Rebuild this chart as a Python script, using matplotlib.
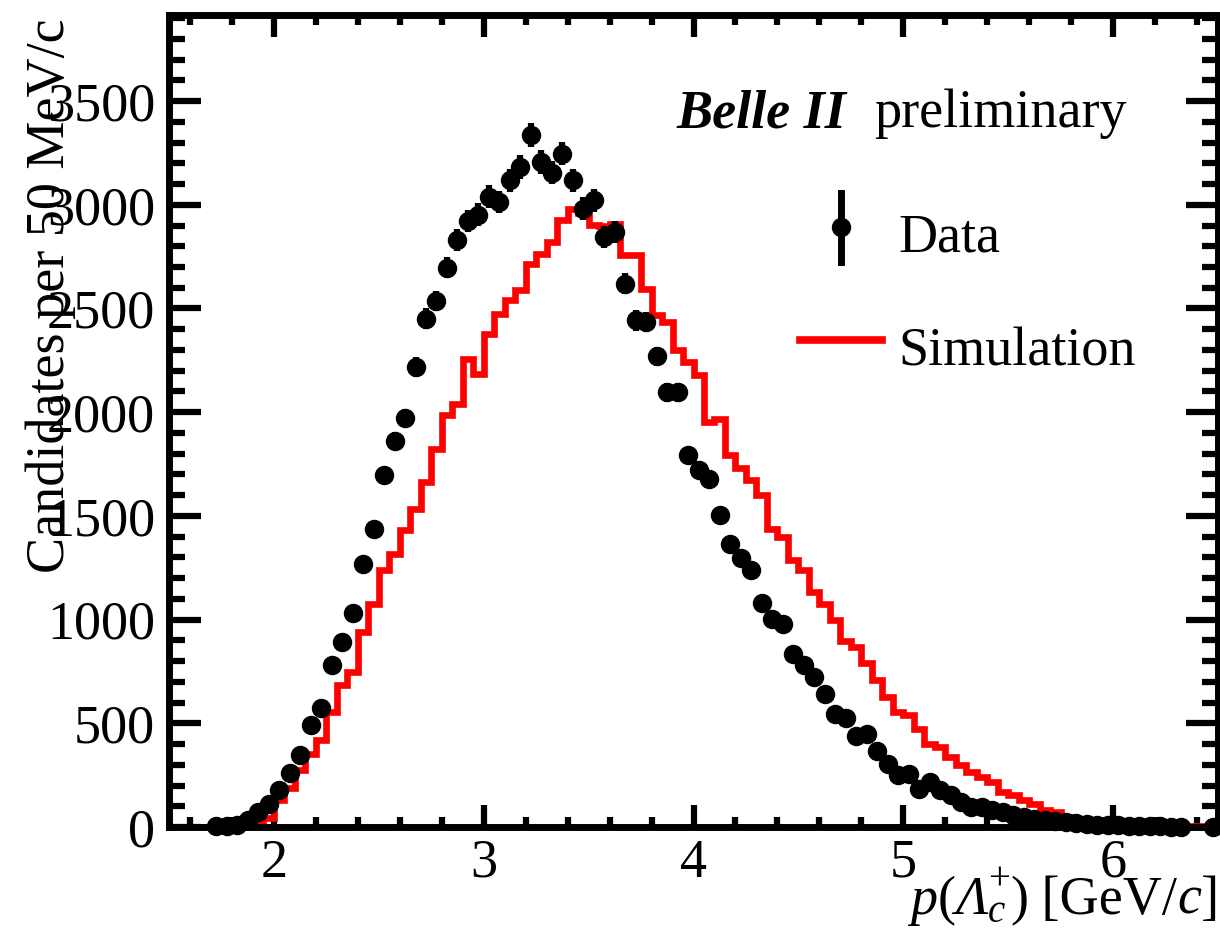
import numpy as np
import matplotlib
matplotlib.use("Agg")
import matplotlib.pyplot as plt
from matplotlib.ticker import MultipleLocator
from matplotlib.lines import Line2D

plt.rcParams['font.family'] = ['Liberation Serif', 'DejaVu Serif']

# ---- data -------------------------------------------------------------
x_low, x_high, n_bins = 1.5, 6.5, 100

# Data counts per 50 MeV/c bin (None = empty bin, not drawn)
data_counts = [
    None, None, None, None, 3, 6, 10, 32, 72, 113,            # 1.50-2.00
    177, 260, 349, 494, 574, 783, 892, 1034, 1266, 1439,      # 2.00-2.50
    1696, 1860, 1972, 2218, 2451, 2536, 2697, 2829, 2922, 2952,  # 2.50-3.00
    3038, 3013, 3118, 3182, 3335, 3206, 3155, 3247, 3118, 2982,  # 3.00-3.50
    3022, 2845, 2869, 2620, 2443, 2435, 2269, 2095, 2097, 1792,  # 3.50-4.00
    1723, 1680, 1506, 1366, 1297, 1241, 1078, 1005, 981, 836,    # 4.00-4.50
    780, 725, 640, 547, 527, 438, 450, 366, 306, 249,            # 4.50-5.00
    257, 185, 217, 177, 153, 121, 96, 96, 80, 72,                # 5.00-5.50
    56, 48, 40, 35, 30, 25, 20, 16, 12, 10,                      # 5.50-6.00
    8, 6, 5, 4, 3, 2, 2, None, None, 1,                          # 6.00-6.50
]

# Simulation (normalised) counts per bin
sim_counts = [
    0, 0, 0, 0, 0, 2, 4, 8, 20, 45,                              # 1.50-2.00
    129, 188, 273, 354, 418, 554, 683, 747, 940, 1077,           # 2.00-2.50
    1238, 1318, 1431, 1535, 1663, 1824, 1985, 2041, 2258, 2186,  # 2.50-3.00
    2379, 2475, 2539, 2590, 2716, 2765, 2821, 2925, 2982, 2960,  # 3.00-3.50
    2901, 2900, 2909, 2757, 2757, 2596, 2467, 2435, 2298, 2242,  # 3.50-4.00
    2178, 1953, 1969, 1792, 1733, 1672, 1599, 1439, 1398, 1286,  # 4.00-4.50
    1238, 1133, 1073, 997, 896, 868, 792, 707, 627, 554,         # 4.50-5.00
    539, 474, 402, 386, 338, 298, 265, 241, 217, 169,            # 5.00-5.50
    153, 129, 113, 80, 72, 48, 40, 32, 25, 20,                   # 5.50-6.00
    15, 12, 10, 8, 6, 5, 4, 3, 3, 2,                             # 6.00-6.50
]

y_ticks = [0, 500, 1000, 1500, 2000, 2500, 3000, 3500]
x_ticks = [2, 3, 4, 5, 6]

# ---- figure -----------------------------------------------------------
W, H = 1220, 931
fig = plt.figure(figsize=(W / 100, H / 100), dpi=100)
ax = fig.add_axes([169 / W, 1 - 827 / H, (1218 - 169) / W, (827 - 15) / H])

edges = np.linspace(x_low, x_high, n_bins + 1)
centers = 0.5 * (edges[:-1] + edges[1:])
d = np.array([np.nan if v is None else v for v in data_counts], dtype=float)
s = np.array(sim_counts, dtype=float)

ax.stairs(s, edges, color='#ff0000', lw=4.8, baseline=None, zorder=2)
m = ~np.isnan(d)
ax.errorbar(centers[m], d[m], yerr=np.sqrt(d[m]), fmt='o', color='black',
            ms=13, elinewidth=4.5, capsize=0, zorder=3, clip_on=False)

ax.set_xlim(x_low, x_high)
ax.set_ylim(0, 3915)
ax.set_xticks(x_ticks)
ax.set_yticks(y_ticks)
ax.xaxis.set_minor_locator(MultipleLocator(0.2))
ax.yaxis.set_minor_locator(MultipleLocator(100))

ax.tick_params(which='both', direction='in', top=True, right=True,
               labelsize=39, width=4.5, color='black')
ax.tick_params(axis='x', which='major', length=16, pad=8)
ax.tick_params(axis='x', which='minor', length=7)
ax.tick_params(axis='y', which='major', length=23, pad=10)
ax.tick_params(axis='y', which='minor', length=11.5)
for sp in ax.spines.values():
    sp.set_linewidth(5)
    sp.set_zorder(5)

# ---- labels -----------------------------------------------------------
fig.text(51 / W, 1 - 18 / H, 'Candidates per 50 MeV/c', rotation=90,
         ha='center', va='top', fontsize=39)

# x-axis title p(Λc+) [GeV/c], assembled from pieces (italic Lambda,
# stacked sub/superscript).  Each entry: text, style, size, dy(px), stack
xlabel_pieces = [
    ('p', 'italic', 39, 0, False),
    ('(', 'normal', 39, 0, False),
    ('Λ', 'italic', 39, 0, False),
    ('c', 'italic', 28, -8, True),     # subscript, stacked with next
    ('+', 'normal', 28, 24, False),    # superscript
    (')', 'normal', 39, 0, False),
    (' [GeV/', 'normal', 39, 0, False),
    ('c', 'italic', 39, 0, False),
    (']', 'normal', 39, 0, False),
]
base_y = 914
renderer = fig.canvas.get_renderer()
items = []
for txt, style, size, dy, stack in xlabel_pieces:
    t = fig.text(0, 1 - (base_y - dy) / H, txt, fontsize=size,
                 fontstyle=style, ha='left', va='baseline')
    items.append((t, t.get_window_extent(renderer).width, stack))
total = 0.0
pending = 0.0
for t, w, stack in items:
    if stack:
        pending = max(pending, w)
    else:
        total += max(pending, w)
        pending = 0.0
x_cur = 1219 - total
pending = 0.0
for t, w, stack in items:
    t.set_x(x_cur / W)
    if stack:
        pending = max(pending, w)
    else:
        x_cur += max(pending, w)
        pending = 0.0

# ---- Belle II label and legend -----------------------------------------
fig.text(677 / W, 1 - 127 / H, 'Belle II', fontsize=39, fontweight='bold',
         fontstyle='italic', va='baseline', ha='left')
fig.text(1127 / W, 1 - 127 / H, 'preliminary', fontsize=39,
         va='baseline', ha='right')

fig.add_artist(Line2D([841 / W, 841 / W], [1 - 193 / H, 1 - 262 / H],
                      transform=fig.transFigure, color='black', lw=5))
fig.add_artist(Line2D([841 / W], [1 - 227 / H], transform=fig.transFigure,
                      marker='o', ms=13, color='black', lw=0))
fig.text(898 / W, 1 - 252 / H, 'Data', fontsize=39, va='baseline', ha='left')

fig.add_artist(Line2D([800 / W, 882 / W], [1 - 340 / H, 1 - 340 / H],
                      transform=fig.transFigure, color='#ff0000', lw=5.5))
fig.text(898 / W, 1 - 365 / H, 'Simulation', fontsize=39, va='baseline',
         ha='left')

fig.savefig('out.png', dpi=100)
